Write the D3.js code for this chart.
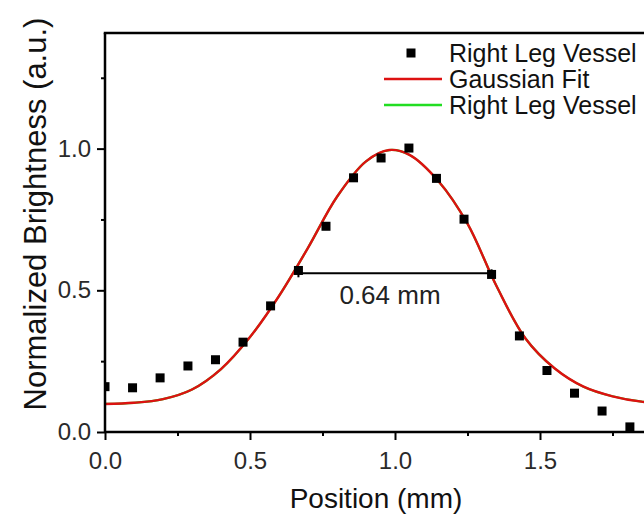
<!DOCTYPE html>
<html>
<head>
<meta charset="utf-8">
<script src="https://cdn.jsdelivr.net/npm/d3@7"></script>
<style>
  html, body { margin: 0; padding: 0; background: #fff; }
  svg { display: block; font-family: "Liberation Sans", Arial, sans-serif; }
</style>
</head>
<body>
<svg id="chart" width="644" height="525"></svg>
<script>
// ---------- data ----------
const pointX = [0, 0.095, 0.19, 0.286, 0.381, 0.476, 0.571, 0.667, 0.762, 0.857,
                0.952, 1.048, 1.143, 1.238, 1.333, 1.429, 1.524, 1.619, 1.714, 1.81];
const pointY = [0.160, 0.156, 0.191, 0.233, 0.255, 0.317, 0.445, 0.570, 0.726, 0.897,
                0.967, 1.002, 0.895, 0.751, 0.556, 0.339, 0.217, 0.137, 0.074, 0.018];

const fitX = [0, 0.1, 0.2, 0.3, 0.4, 0.5, 0.6, 0.7, 0.8, 0.9, 0.98, 1.05,
              1.15, 1.25, 1.35, 1.45, 1.55, 1.65, 1.75, 1.85, 1.95];
const fitY = [0.099, 0.103, 0.116, 0.150, 0.222, 0.335, 0.480, 0.650, 0.830, 0.955, 0.995, 0.978,
              0.885, 0.735, 0.515, 0.330, 0.225, 0.160, 0.126, 0.107, 0.100];

const legendLabels = ["Right Leg Vessel", "Gaussian Fit", "Right Leg Vessel"];
const xMajorTicks = [0, 0.5, 1.0, 1.5];
const xMinorTicks = [0.25, 0.75, 1.25, 1.75];
const yMajorTicks = [0, 0.5, 1.0];
const yMinorTicks = [0.25, 0.75, 1.25];
const fwhmStartX = 0.667, fwhmEndX = 1.333, fwhmY = 0.56;
const fwhmLabel = "0.64 mm";
const xTitle = "Position (mm)";
const yTitle = "Normalized Brightness (a.u.)";

// ---------- layout ----------
const W = 644, H = 525;
const mLeft = 105, mTop = 33, mBottom = 432;
const xMax = 1.95, yMax = 1.408;
const x = d3.scaleLinear().domain([0, xMax]).range([mLeft, mLeft + xMax * 290]);
const y = d3.scaleLinear().domain([0, yMax]).range([mBottom, mTop]);

const svg = d3.select("#chart");

svg.append("defs").append("clipPath").attr("id", "plotclip")
  .append("rect").attr("x", mLeft).attr("y", mTop)
  .attr("width", W - mLeft + 20).attr("height", mBottom - mTop);

const plot = svg.append("g").attr("clip-path", "url(#plotclip)");

const fitData = fitX.map((v, i) => [v, fitY[i]]);
const line = d3.line().x(d => x(d[0])).y(d => y(d[1])).curve(d3.curveCatmullRom.alpha(0.5));

// green fit (underneath)
plot.append("path").datum(fitData).attr("d", line)
  .attr("fill", "none").attr("stroke", "#22dd22").attr("stroke-width", 2.2);
// red gaussian fit
plot.append("path").datum(fitData).attr("d", line)
  .attr("fill", "none").attr("stroke", "#dd1111").attr("stroke-width", 2.4);

// data squares
const ms = 9;
plot.selectAll("rect.pt").data(pointX.map((v, i) => [v, pointY[i]])).enter()
  .append("rect").attr("class", "pt")
  .attr("x", d => x(d[0]) - ms / 2).attr("y", d => y(d[1]) - ms / 2)
  .attr("width", ms).attr("height", ms).attr("fill", "#000");

// FWHM bar
const fy = y(fwhmY);
svg.append("line").attr("x1", x(fwhmStartX)).attr("x2", x(fwhmEndX))
  .attr("y1", fy).attr("y2", fy).attr("stroke", "#000").attr("stroke-width", 2);
[fwhmStartX, fwhmEndX].forEach(v => {
  svg.append("line").attr("x1", x(v)).attr("x2", x(v))
    .attr("y1", fy - 4).attr("y2", fy + 4).attr("stroke", "#000").attr("stroke-width", 2);
});
svg.append("text").attr("x", 390).attr("y", fy + 31)
  .attr("text-anchor", "middle").attr("font-size", 26).attr("fill", "#222").text(fwhmLabel);

// ---------- axes ----------
const fmt = d3.format(".1f");
const xAxis = svg.append("g").attr("transform", `translate(0,${mBottom})`)
  .call(d3.axisBottom(x).tickValues(xMajorTicks).tickFormat(fmt).tickSize(8).tickPadding(12));
svg.append("g").attr("transform", `translate(0,${mBottom})`)
  .call(d3.axisBottom(x).tickValues(xMinorTicks).tickFormat("").tickSize(4))
  .select(".domain").remove();
const yAxis = svg.append("g").attr("transform", `translate(${mLeft},0)`)
  .call(d3.axisLeft(y).tickValues(yMajorTicks).tickFormat(fmt).tickSize(8).tickPadding(6));
svg.append("g").attr("transform", `translate(${mLeft},0)`)
  .call(d3.axisLeft(y).tickValues(yMinorTicks).tickFormat("").tickSize(4))
  .select(".domain").remove();

svg.selectAll(".domain").attr("stroke", "#000").attr("stroke-width", 2.5);
svg.selectAll(".tick line").attr("stroke", "#000").attr("stroke-width", 2);
svg.selectAll(".tick text").attr("font-size", 24).attr("fill", "#2a2a2a")
  .attr("font-family", "'Liberation Sans', Arial, sans-serif");
xAxis.select(".domain").attr("d", `M${mLeft},0H${W + 10}`);
yAxis.select(".domain").attr("d", `M0,${mBottom}V${mTop}`);

// top frame
svg.append("line").attr("x1", mLeft - 1.25).attr("x2", W + 10).attr("y1", mTop).attr("y2", mTop)
  .attr("stroke", "#000").attr("stroke-width", 2.5);

// titles
svg.append("text").attr("x", 376).attr("y", 508).attr("text-anchor", "middle")
  .attr("font-size", 28).attr("fill", "#111").text(xTitle);
svg.append("text").attr("transform", `translate(46,214) rotate(-90)`)
  .attr("text-anchor", "middle").attr("font-size", 31).attr("fill", "#111").text(yTitle);

// ---------- legend ----------
const lg = svg.append("g");
const rowY = [53, 79, 105];
const textX = 449;
lg.append("rect").attr("x", 411 - 4.5).attr("y", rowY[0] - 4.5).attr("width", 9).attr("height", 9).attr("fill", "#000");
lg.append("line").attr("x1", 384).attr("x2", 442).attr("y1", rowY[1]).attr("y2", rowY[1])
  .attr("stroke", "#dd1111").attr("stroke-width", 2.4);
lg.append("line").attr("x1", 384).attr("x2", 442).attr("y1", rowY[2]).attr("y2", rowY[2])
  .attr("stroke", "#22dd22").attr("stroke-width", 2.4);
legendLabels.forEach((t, i) => {
  lg.append("text").attr("x", textX).attr("y", rowY[i]).attr("dy", "0.36em")
    .attr("font-size", 25).attr("fill", "#111").text(t);
});
</script>
</body>
</html>
